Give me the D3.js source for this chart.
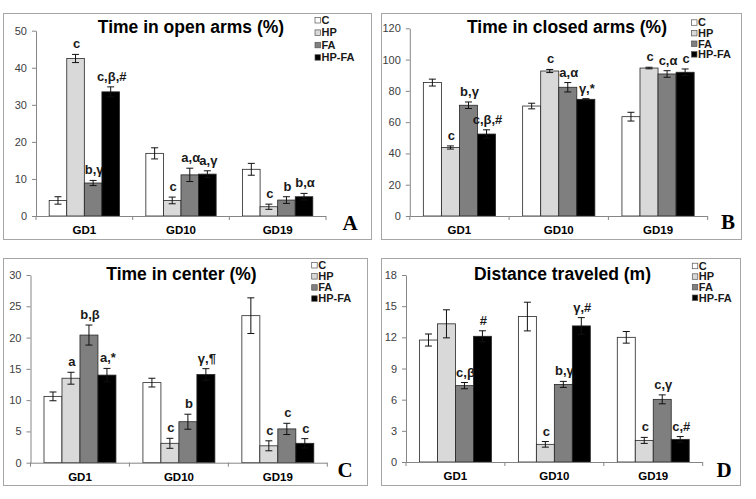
<!DOCTYPE html>
<html><head><meta charset="utf-8">
<script src="https://cdn.jsdelivr.net/npm/d3@7"></script>
<style>body{margin:0;background:#fff}svg{display:block}</style>
</head><body>
<script>
const categories = ["GD1", "GD10", "GD19"];
const groups = ["C", "HP", "FA", "HP-FA"];

// Panel A: Time in open arms (%) — rows = groups, cols = categories
const openArmsMean = [[4.2, 16.9, 12.6], [42.5, 4.2, 2.5], [8.9, 11.1, 4.3], [33.5, 11.3, 5.2]];
const openArmsErr  = [[1.0, 1.5, 1.6], [1.1, 0.9, 0.7], [0.7, 1.8, 0.9], [1.35, 0.9, 0.9]];
const openArmsLbl  = [["", "", ""], ["c", "c", "c"], ["b,γ", "a,α", "b"], ["c,β,#", "a,γ", "b,α"]];
const openArmsTicks = [0, 10, 20, 30, 40, 50];

// Panel B: Time in closed arms (%)
const closedArmsMean = [[85.3, 70.3, 63.5], [43.8, 92.7, 94.6], [70.8, 82.3, 90.8], [52.4, 74.6, 91.9]];
const closedArmsErr  = [[2.2, 1.8, 2.8], [1.0, 1.0, 0.5], [2.1, 3.0, 2.1], [2.7, 0.4, 2.1]];
const closedArmsLbl  = [["", "", ""], ["c", "c", "c"], ["b,γ", "a,α", "c,α"], ["c,β,#", "γ,*", "c"]];
const closedArmsTicks = [0, 20, 40, 60, 80, 100, 120];

// Panel C: Time in center (%)
const centerMean = [[10.6, 12.8, 23.5], [13.5, 3.1, 2.7], [20.4, 6.55, 5.4], [14.0, 14.1, 3.1]];
const centerErr  = [[0.7, 0.7, 2.85], [0.95, 0.8, 0.8], [1.6, 1.2, 0.9], [1.07, 0.93, 0.75]];
const centerLbl  = [["", "", ""], ["a", "c", "c"], ["b,β", "b", "c"], ["a,*", "γ,¶", "c"]];
const centerTicks = [0, 5, 10, 15, 20, 25, 30];

// Panel D: Distance traveled (m)
const distanceMean = [[11.74, 14.0, 12.0], [13.3, 1.7, 2.08], [7.35, 7.47, 6.03], [12.1, 13.1, 2.18]];
const distanceErr  = [[0.58, 1.38, 0.56], [1.35, 0.27, 0.29], [0.3, 0.29, 0.43], [0.53, 0.8, 0.27]];
const distanceLbl  = [["", "", ""], ["", "c", "c"], ["c,β", "b,γ", "c,γ"], ["#", "γ,#", "c,#"]];
const distanceTicks = [0, 3, 6, 9, 12, 15, 18];

const fills = ["#ffffff", "#d9d9d9", "#7f7f7f", "#000000"];

const panels = [
  {letter: "A", title: "Time in open arms (%)", mean: openArmsMean, err: openArmsErr, lbl: openArmsLbl, ticks: openArmsTicks,
   frame: [3, 13, 371, 239], px: [36, 326], py: [216, 30.7], title_xy: [191, 33], leg: [315, 20, 12.4], let_xy: [350, 230]},
  {letter: "B", title: "Time in closed arms (%)", mean: closedArmsMean, err: closedArmsErr, lbl: closedArmsLbl, ticks: closedArmsTicks,
   frame: [381, 13, 741, 239], px: [409.8, 707.7], py: [216, 28.3], title_xy: [567, 33], leg: [691.5, 22.3, 10.6], let_xy: [728, 229]},
  {letter: "C", title: "Time in center (%)", mean: centerMean, err: centerErr, lbl: centerLbl, ticks: centerTicks,
   frame: [3, 258, 367, 485], px: [30.5, 327.3], py: [462.7, 275], title_xy: [181.5, 280], leg: [311.7, 265, 11.1], let_xy: [345, 477]},
  {letter: "D", title: "Distance traveled (m)", mean: distanceMean, err: distanceErr, lbl: distanceLbl, ticks: distanceTicks,
   frame: [381, 258, 740, 485], px: [406, 702.7], py: [462, 275], title_xy: [562.5, 280], leg: [692.3, 265.7, 10.6], let_xy: [724, 477]}
];

const svg = d3.select("body").append("svg").attr("width", 756).attr("height", 499);
svg.append("rect").attr("width", 756).attr("height", 499).attr("fill", "#fff");

panels.forEach(p => {
  const g = svg.append("g");
  g.append("rect").attr("x", p.frame[0] + 0.5).attr("y", p.frame[1] + 0.5)
    .attr("width", p.frame[2] - p.frame[0]).attr("height", p.frame[3] - p.frame[1])
    .attr("fill", "#fff").attr("stroke", "#a6a6a6").attr("stroke-width", 1);

  const x0 = d3.scaleBand().domain(categories).range(p.px).paddingInner(0).paddingOuter(0);
  const x1 = d3.scaleBand().domain(groups).range([0, x0.bandwidth()]).paddingInner(0).paddingOuter(0.75);
  const y = d3.scaleLinear().domain([0, d3.max(p.ticks)]).range(p.py);

  // y axis
  const ya = g.append("g").attr("transform", `translate(${p.px[0]},0)`)
    .call(d3.axisLeft(y).tickValues(p.ticks).tickSize(4).tickSizeOuter(0).tickPadding(5));
  ya.select(".domain").attr("stroke", "#868686");
  ya.selectAll(".tick line").attr("stroke", "#868686");
  ya.selectAll(".tick text").attr("font-family", "Liberation Sans, Arial, sans-serif")
    .attr("font-size", 11).attr("fill", "#404040");

  // bars
  groups.forEach((grp, gi) => {
    categories.forEach((cat, ci) => {
      const v = p.mean[gi][ci], e = p.err[gi][ci];
      const bx = x0(cat) + x1(grp), bw = x1.bandwidth();
      g.append("rect").attr("x", bx).attr("y", y(v)).attr("width", bw).attr("height", y(0) - y(v))
        .attr("fill", fills[gi]).attr("stroke", "#262626").attr("stroke-width", 0.8);
      const cx = bx + bw / 2;
      const eg = g.append("g").attr("stroke", "#111").attr("stroke-width", 1);
      eg.append("line").attr("x1", cx).attr("x2", cx).attr("y1", y(v + e)).attr("y2", y(v - e));
      eg.append("line").attr("x1", cx - 3.5).attr("x2", cx + 3.5).attr("y1", y(v + e)).attr("y2", y(v + e));
      eg.append("line").attr("x1", cx - 3.5).attr("x2", cx + 3.5).attr("y1", y(v - e)).attr("y2", y(v - e));
      const t = p.lbl[gi][ci];
      if (t) {
        g.append("text").attr("x", cx + 1).attr("y", y(v + e) - 6).attr("text-anchor", "middle")
          .attr("font-family", "Liberation Sans, Arial, sans-serif").attr("font-weight", "bold")
          .attr("font-size", 13).attr("fill", "#1a1a1a").text(t);
      }
    });
  });

  // x axis
  g.append("line").attr("x1", p.px[0]).attr("x2", p.px[1]).attr("y1", y(0) + 0.5).attr("y2", y(0) + 0.5)
    .attr("stroke", "#868686");
  const bounds = categories.map(c => x0(c)).concat([p.px[1]]);
  bounds.forEach(bx => g.append("line").attr("x1", bx).attr("x2", bx).attr("y1", y(0)).attr("y2", y(0) + 4)
    .attr("stroke", "#868686"));
  categories.forEach(c => g.append("text").attr("x", x0(c) + x0.bandwidth() / 2).attr("y", y(0) + 18)
    .attr("text-anchor", "middle").attr("font-family", "Liberation Sans, Arial, sans-serif")
    .attr("font-weight", "bold").attr("font-size", 11.5).attr("fill", "#000").text(c));

  // title
  g.append("text").attr("x", p.title_xy[0]).attr("y", p.title_xy[1]).attr("text-anchor", "middle")
    .attr("font-family", "Liberation Sans, Arial, sans-serif").attr("font-weight", "bold")
    .attr("font-size", 17.5).attr("fill", "#000").text(p.title);

  // legend
  groups.forEach((grp, gi) => {
    const ly = p.leg[1] + gi * p.leg[2];
    g.append("rect").attr("x", p.leg[0]).attr("y", ly - 2.5).attr("width", 5.5).attr("height", 5.5)
      .attr("fill", fills[gi]).attr("stroke", "#555").attr("stroke-width", 0.7);
    g.append("text").attr("x", p.leg[0] + 6.5).attr("y", ly + 4)
      .attr("font-family", "Liberation Sans, Arial, sans-serif").attr("font-weight", "bold")
      .attr("font-size", 11).attr("fill", "#1a1a1a").text(grp);
  });

  // panel letter
  g.append("text").attr("x", p.let_xy[0]).attr("y", p.let_xy[1]).attr("text-anchor", "middle")
    .attr("font-family", "Liberation Serif, Times New Roman, serif").attr("font-weight", "bold")
    .attr("font-size", 21).attr("fill", "#000").text(p.letter);
});
</script>
</body></html>
